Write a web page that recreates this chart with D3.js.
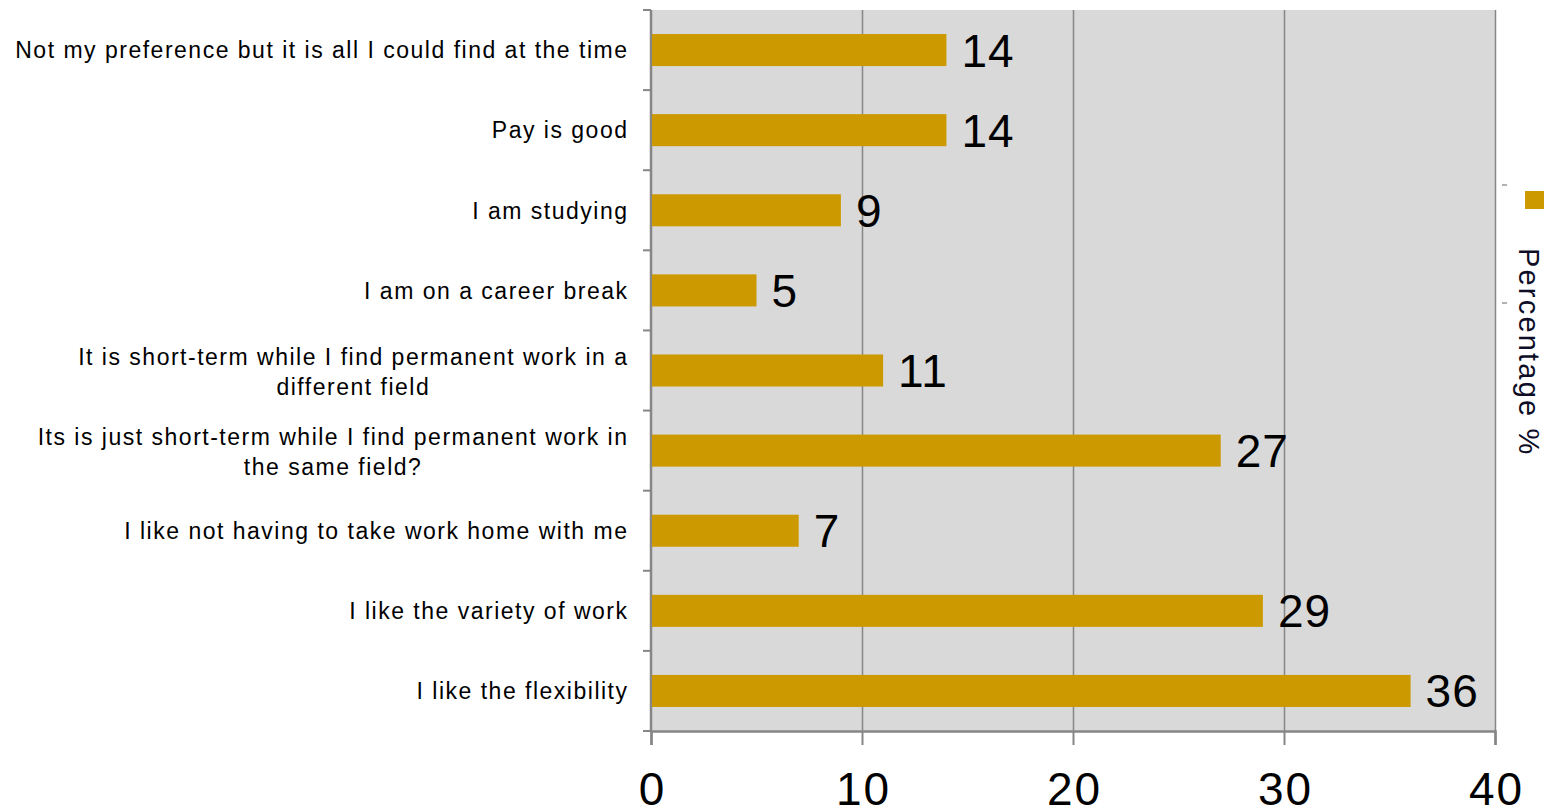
<!DOCTYPE html>
<html>
<head>
<meta charset="utf-8">
<script src="https://cdn.jsdelivr.net/npm/d3@7"></script>
<style>
  html, body { margin: 0; padding: 0; background: #ffffff; }
  svg { display: block; }
  text { font-family: "Liberation Sans", Arial, sans-serif; }
</style>
</head>
<body>
<svg id="chart" width="1555" height="810"></svg>
<script>
// ---- data ----
const categories = [
  ["Not my preference but it is all I could find at the time"],
  ["Pay is good"],
  ["I am studying"],
  ["I am on a career break"],
  ["It is short-term while I find permanent work in a", "different field"],
  ["Its is just short-term while I find permanent work in", "the same field?"],
  ["I like not having to take work home with me"],
  ["I like the variety of work"],
  ["I like the flexibility"]
];
const values = [14, 14, 9, 5, 11, 27, 7, 29, 36];
const xTicks = [0, 10, 20, 30, 40];
const seriesName = "Percentage %";

// ---- layout ----
const svg = d3.select("#chart");
const pLeft = 651, pRight = 1495, pTop = 10, pBottom = 731;
const barColor = "#cc9900";
const axisColor = "#868686";

const x = d3.scaleLinear().domain([0, 40]).range([pLeft, pRight]);
const y = d3.scaleBand().domain(d3.range(categories.length)).range([pTop, pBottom]).paddingInner(0.6).paddingOuter(0.3);
const yBand = d3.scaleBand().domain(d3.range(categories.length)).range([pTop, pBottom]);

// plot background
svg.append("rect").attr("x", pLeft).attr("y", pTop).attr("width", pRight - pLeft).attr("height", pBottom - pTop).attr("fill", "#d9d9d9");

// vertical gridlines (including right border)
svg.append("g").selectAll("line").data(xTicks.slice(1)).join("line")
  .attr("x1", d => x(d) + 0.5).attr("x2", d => x(d) + 0.5)
  .attr("y1", pTop).attr("y2", pBottom)
  .attr("stroke", axisColor).attr("stroke-width", 1.5);

// bottom axis
const tickLS = 2;
const xAxis = d3.axisBottom(x).tickValues(xTicks).tickSize(14).tickPadding(27).tickFormat(d3.format("d"));
const gx = svg.append("g").attr("transform", `translate(0,${pBottom})`).call(xAxis);
gx.select(".domain").attr("stroke", axisColor).attr("stroke-width", 2.5);
gx.selectAll(".tick line").attr("stroke", axisColor).attr("stroke-width", 2);
gx.selectAll(".tick text").attr("font-size", 46).attr("fill", "#000")
  .attr("font-family", "Liberation Sans, Arial, sans-serif")
  .attr("letter-spacing", tickLS).attr("dx", tickLS / 2);

// left axis line and ticks at band boundaries
svg.append("line").attr("x1", pLeft).attr("x2", pLeft).attr("y1", pTop).attr("y2", pBottom)
  .attr("stroke", axisColor).attr("stroke-width", 2.5);
const boundaries = d3.range(categories.length + 1).map(i => i < categories.length ? yBand(i) : pBottom);
svg.append("g").selectAll("line").data(boundaries).join("line")
  .attr("x1", pLeft - 8).attr("x2", pLeft).attr("y1", d => d).attr("y2", d => d)
  .attr("stroke", axisColor).attr("stroke-width", 2);

// bars
svg.append("g").selectAll("rect").data(values).join("rect")
  .attr("x", x(0) + 1)
  .attr("y", (d, i) => y(i))
  .attr("width", d => x(d) - x(0) - 1)
  .attr("height", y.bandwidth())
  .attr("fill", barColor);

// value labels
svg.append("g").selectAll("text").data(values).join("text")
  .attr("x", d => x(d) + 15)
  .attr("y", (d, i) => y(i) + y.bandwidth() / 2 + 16.5)
  .attr("font-size", 46)
  .attr("letter-spacing", 1)
  .attr("fill", "#000")
  .text(d => d);

// category labels (wrapped lines centered within block, block right-aligned)
const labelRight = 627, lineH = 30, catSize = 23, catLS = 1.5;
categories.forEach((lines, i) => {
  const cy = yBand(i) + yBand.bandwidth() / 2;
  const g = svg.append("g");
  const texts = lines.map((ln, j) => g.append("text")
    .attr("font-size", catSize).attr("fill", "#000")
    .attr("letter-spacing", catLS)
    .attr("y", cy + (j - (lines.length - 1) / 2) * lineH + catSize * 0.36 + (lines.length > 1 ? 1 : 0))
    .text(ln));
  const widths = texts.map(t => t.node().getComputedTextLength());
  const maxW = d3.max(widths);
  const cx = labelRight + catLS - maxW / 2;
  texts.forEach(t => t.attr("x", cx).attr("text-anchor", "middle"));
});

// legend
svg.append("rect").attr("x", 1525).attr("y", 191).attr("width", 19).attr("height", 18).attr("fill", barColor);
svg.append("text")
  .attr("transform", "translate(1519,248) rotate(90)")
  .attr("font-size", 29).attr("letter-spacing", 2.2).attr("fill", "#0d0d26")
  .text(seriesName);
svg.append("g").selectAll("line").data([185, 303]).join("line")
  .attr("x1", 1502).attr("x2", 1507).attr("y1", d => d).attr("y2", d => d)
  .attr("stroke", "#999").attr("stroke-width", 1.5);
</script>
</body>
</html>
